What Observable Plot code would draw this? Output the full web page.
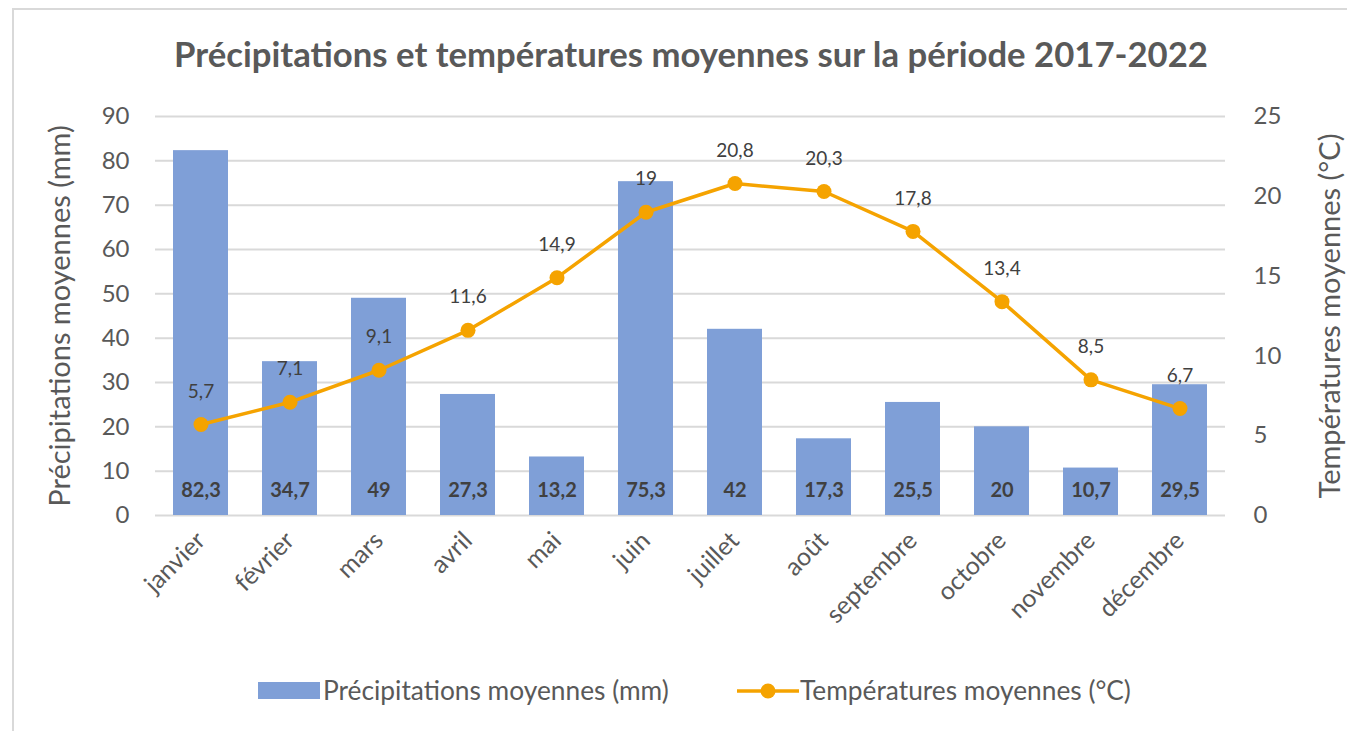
<!DOCTYPE html>
<html><head><meta charset="utf-8">
<script src="https://cdn.jsdelivr.net/npm/d3@7"></script>
<script src="https://cdn.jsdelivr.net/npm/@observablehq/plot@0.6"></script>
<style>
body{margin:0;background:#fff;font-family:Lato,sans-serif;}
#wrap{position:relative;width:1347px;height:731px;overflow:hidden;background:#fff}
#frame{position:absolute;left:12px;top:8px;width:1400px;height:800px;border:2px solid #d9d9d9;box-sizing:border-box}
#title{position:absolute;top:33px;left:15px;width:1352px;text-align:center;font-weight:bold;font-size:34.7px;color:#595959;white-space:nowrap}
#chart{position:absolute;left:0;top:0}
.lg{position:absolute;font-size:26.3px;color:#595959;white-space:nowrap;line-height:30px}
</style>
</head><body>
<div id="wrap">
<div id="frame"></div>
<div id="title">Précipitations et températures moyennes sur la période 2017-2022</div>
<div id="chart"></div>
<span style="position:absolute;left:258px;top:682px;width:62px;height:17px;background:#7f9fd7"></span>
<span class="lg" style="left:323px;top:675px">Précipitations moyennes (mm)</span>
<svg width="62" height="20" style="position:absolute;left:737px;top:681px"><line x1="0" y1="10" x2="62" y2="10" stroke="#f5a300" stroke-width="3.5"/><circle cx="31" cy="10" r="7.5" fill="#f5a300"/></svg>
<span class="lg" style="left:800px;top:675px">Températures moyennes (°C)</span>
</div>
<script>
const months = ["janvier","février","mars","avril","mai","juin","juillet","août","septembre","octobre","novembre","décembre"];
const precip = [82.3,34.7,49,27.3,13.2,75.3,42,17.3,25.5,20,10.7,29.5];
const temp = [5.7,7.1,9.1,11.6,14.9,19,20.8,20.3,17.8,13.4,8.5,6.7];
const leftTicks = [0,10,20,30,40,50,60,70,80,90];
const rightTicks = [0,5,10,15,20,25];
const k = 90/25;
const data = months.map((m,i)=>({month:m,precip:precip[i],temp:temp[i],tempScaled:temp[i]*k}));
const fmt = v => String(v).replace(".", ",");
const chart = Plot.plot({
  width:1347, height:640, marginTop:116, marginBottom:125, marginLeft:155, marginRight:122,
  x:{domain:months, paddingInner:0.383, paddingOuter:0.19, label:null},
  y:{domain:[0,90], label:null},
  style:{fontFamily:"Lato, sans-serif", color:"#595959", background:"transparent", overflow:"visible"},
  marks:[
    Plot.gridY(leftTicks,{stroke:"#d9d9d9",strokeOpacity:1,strokeWidth:2}),
    Plot.barY(data,{x:"month",y:"precip",fill:"#7f9fd7"}),
    Plot.text(data,{x:"month",y:0,text:d=>fmt(d.precip),dy:-25,fontWeight:"bold",fontSize:20,fill:"#404040"}),
    Plot.line(data,{x:"month",y:"tempScaled",stroke:"#f5a300",strokeWidth:3.5}),
    Plot.dot(data,{x:"month",y:"tempScaled",r:7.5,fill:"#f5a300"}),
    Plot.text(data,{x:"month",y:"tempScaled",text:d=>fmt(d.temp),dy:-33,fontSize:19,fill:"#404040"}),
    Plot.axisY(leftTicks,{anchor:"left",tickSize:0,tickPadding:26,fontSize:24,label:null}),
    Plot.axisY(rightTicks.map(v=>v*k),{anchor:"right",tickSize:0,tickPadding:28,fontSize:24,tickFormat:v=>String(Math.round(v/k)),label:null}),
    Plot.axisX({tickSize:0,tickPadding:21,tickRotate:-45,fontSize:25,label:null}),
    Plot.text(["Précipitations moyennes (mm)"],{frameAnchor:"left",dx:-95,rotate:-90,textAnchor:"middle",fontSize:29,fill:"#595959"}),
    Plot.text(["Températures moyennes (°C)"],{frameAnchor:"right",dx:105,rotate:-90,textAnchor:"middle",fontSize:29,fill:"#595959"})
  ]
});
document.getElementById("chart").appendChild(chart);
</script>
</body></html>
